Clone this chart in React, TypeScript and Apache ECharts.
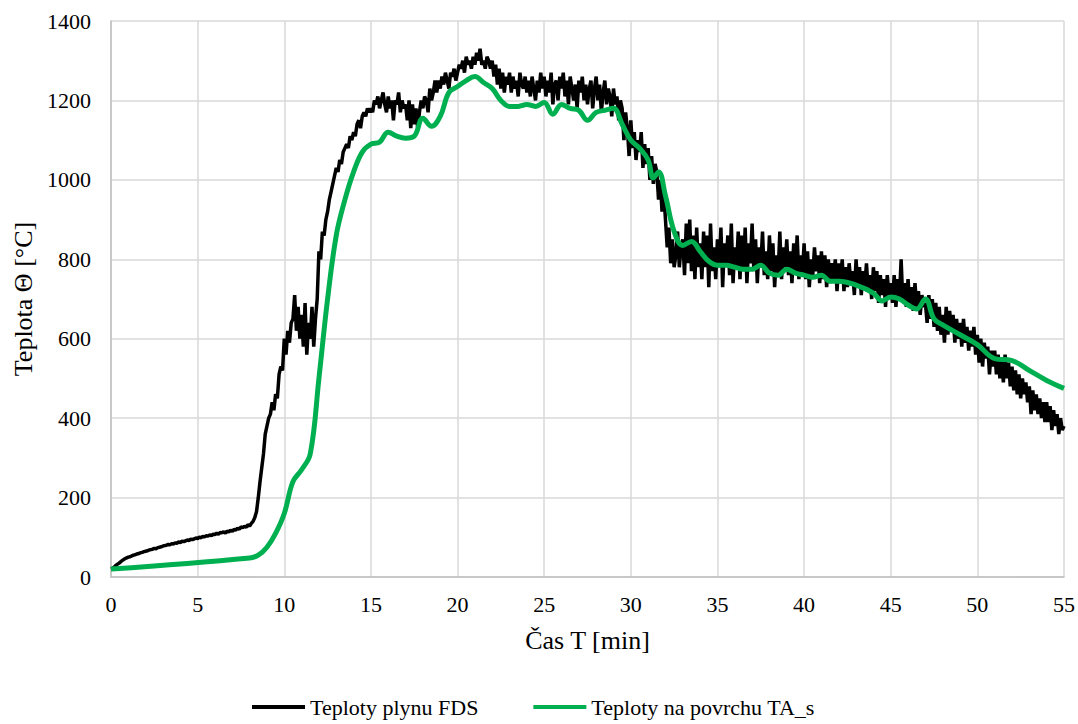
import React, { useEffect, useRef } from "react";
import * as echarts from "echarts";

// Black series (FDS gas temperature), sampled every 0.1 min, one row per minute
const fdsRows: number[][] = [
  [20, 22, 26, 30, 33, 36, 40, 43, 46, 48],
  [50, 51, 53, 55, 56, 58, 59, 61, 62, 64],
  [65, 66, 68, 69, 70, 72, 71, 74, 75, 76],
  [78, 79, 80, 82, 81, 84, 83, 86, 85, 88],
  [87, 90, 89, 91, 93, 92, 95, 94, 96, 98],
  [97, 100, 99, 102, 101, 104, 103, 106, 104, 108],
  [107, 110, 108, 112, 111, 114, 110, 116, 113, 118],
  [115, 120, 118, 123, 120, 126, 124, 128, 125, 132],
  [128, 135, 140, 150, 165, 200, 240, 275, 310, 360],
  [380, 400, 410, 440, 420, 460, 450, 510, 530, 520],
  [600, 560, 620, 590, 640, 650, 710, 620, 680, 600],
  [660, 580, 690, 560, 640, 600, 680, 580, 650, 700],
  [820, 800, 870, 860, 900, 920, 950, 970, 990, 1010],
  [1030, 1020, 1050, 1040, 1070, 1080, 1090, 1080, 1110, 1100],
  [1120, 1110, 1140, 1150, 1130, 1160, 1170, 1160, 1180, 1170],
  [1180, 1170, 1200, 1190, 1210, 1180, 1200, 1220, 1190, 1170],
  [1210, 1180, 1200, 1150, 1200, 1190, 1220, 1170, 1200, 1180],
  [1190, 1150, 1200, 1130, 1190, 1140, 1180, 1130, 1170, 1200],
  [1180, 1210, 1200, 1170, 1230, 1200, 1220, 1250, 1220, 1250],
  [1230, 1260, 1240, 1270, 1250, 1230, 1270, 1260, 1280, 1250],
  [1270, 1290, 1280, 1300, 1270, 1310, 1290, 1300, 1280, 1310],
  [1290, 1320, 1300, 1330, 1290, 1300, 1280, 1310, 1300, 1280],
  [1300, 1260, 1290, 1240, 1280, 1230, 1270, 1220, 1260, 1240],
  [1270, 1220, 1260, 1230, 1250, 1210, 1270, 1240, 1230, 1260],
  [1220, 1250, 1210, 1260, 1230, 1200, 1250, 1220, 1270, 1230],
  [1260, 1210, 1250, 1220, 1270, 1190, 1240, 1250, 1200, 1260],
  [1230, 1270, 1210, 1250, 1190, 1260, 1230, 1200, 1240, 1180],
  [1250, 1220, 1260, 1200, 1240, 1190, 1230, 1250, 1180, 1230],
  [1260, 1200, 1240, 1170, 1220, 1250, 1190, 1230, 1210, 1160],
  [1230, 1190, 1210, 1150, 1200, 1180, 1100, 1170, 1130, 1060],
  [1150, 1080, 1120, 1050, 1100, 1070, 1120, 1030, 1090, 1040],
  [1080, 1000, 1060, 990, 1040, 1020, 950, 1000, 920, 970],
  [900, 830, 880, 790, 850, 780, 810, 870, 780, 830],
  [850, 760, 890, 790, 900, 770, 860, 750, 880, 780],
  [840, 750, 870, 780, 860, 730, 890, 770, 830, 750],
  [850, 780, 880, 730, 840, 790, 860, 760, 890, 740],
  [830, 780, 870, 750, 860, 770, 880, 740, 840, 790],
  [890, 770, 850, 740, 830, 780, 870, 760, 820, 750],
  [860, 770, 840, 730, 810, 760, 870, 750, 830, 780],
  [850, 760, 820, 740, 840, 770, 860, 750, 810, 760],
  [840, 750, 820, 730, 800, 760, 830, 770, 810, 740],
  [820, 750, 810, 730, 800, 740, 790, 750, 800, 720],
  [790, 740, 800, 720, 780, 730, 790, 740, 770, 710],
  [800, 730, 780, 710, 770, 730, 790, 720, 760, 700],
  [780, 720, 770, 690, 760, 710, 750, 680, 760, 710],
  [740, 690, 760, 680, 750, 700, 800, 690, 740, 680],
  [750, 680, 730, 670, 740, 680, 720, 660, 710, 680],
  [690, 640, 710, 650, 700, 630, 690, 620, 680, 610],
  [660, 590, 680, 610, 670, 620, 660, 590, 650, 600],
  [640, 580, 650, 590, 630, 570, 620, 580, 630, 560],
  [610, 540, 600, 530, 590, 550, 580, 510, 570, 530],
  [570, 510, 560, 500, 550, 490, 560, 500, 540, 480],
  [530, 470, 520, 460, 510, 450, 500, 460, 490, 440],
  [480, 410, 470, 420, 460, 410, 450, 400, 440, 390],
  [440, 390, 430, 370, 420, 380, 410, 360, 400, 370],
  [380],
];

// Green series (surface temperature TA_s)
const surfaceTimes: number[] = [
  0, 8, 8.5, 9, 9.5, 10, 10.5, 11, 11.5, 12, 12.5, 13, 13.5, 14, 14.5, 15, 15.5,
  16, 16.5, 17, 17.5, 18, 18.5, 19, 19.5, 20, 20.5, 21, 21.5, 22, 22.5, 23, 23.5,
  24, 24.5, 25, 25.5, 26, 26.5, 27, 27.5, 28, 28.5, 29, 29.5, 30, 30.5, 31, 31.3,
  31.6, 32, 32.5, 33, 33.5, 34, 34.5, 35, 35.5, 36, 36.5, 37, 37.5, 38, 38.5, 39,
  39.5, 40, 40.5, 41, 41.5, 42, 43, 44, 44.5, 45, 45.5, 46, 46.5, 47, 47.5, 48,
  49, 50, 51, 52, 53, 54, 55,
];
const surfaceValues: number[] = [
  20, 48, 55, 75, 110, 160, 240, 270, 310, 500, 700, 860, 950, 1020, 1070, 1090, 1095,
  1120, 1110, 1105, 1110, 1155, 1135, 1160, 1220, 1235, 1250, 1260, 1245, 1230, 1200, 1185, 1185,
  1190, 1185, 1195, 1165, 1190, 1180, 1175, 1150, 1170, 1175, 1180, 1140, 1100, 1080, 1050, 1005,
  1020, 960, 870, 835, 845, 820, 795, 785, 785, 780, 775, 775, 785, 765, 760, 775,
  765, 760, 755, 760, 745, 745, 735, 715, 695, 705, 700, 685, 675, 700, 650, 635,
  610, 585, 550, 545, 520, 495, 475,
];

const xTicks = { min: 0, max: 55, interval: 5 };
const yTicks = { min: 0, max: 1400, interval: 200 };

const seriesNames = ["Teploty plynu FDS", "Teploty na povrchu TA_s"];

const FONT = "Times New Roman";
const richText = { t: { fontFamily: FONT, fontSize: 22, color: "#000" } };

export default function App() {
  const ref = useRef<HTMLDivElement>(null);
  useEffect(() => {
    if (!ref.current) return;
    const chart = echarts.init(ref.current, undefined, { renderer: "svg" });
    const fdsData: number[][] = [];
    fdsRows.forEach((row, m) => {
      row.forEach((v, i) => {
        fdsData.push([Math.round((m + i / 10) * 10) / 10, v]);
      });
    });
    const surfData = surfaceTimes.map((t, i) => [t, surfaceValues[i]]);
    chart.setOption({
      animation: false,
      textStyle: { fontFamily: FONT },
      grid: { left: 111, right: 13, top: 21, bottom: 147, containLabel: false },
      legend: {
        bottom: 1,
        left: 247,
        itemWidth: 53,
        itemHeight: 4,
        itemGap: 55,
        formatter: (name: string) => `{t|${name}}`,
        textStyle: { fontFamily: FONT, fontSize: 22, rich: richText },
        data: [
          { name: seriesNames[0], icon: "rect", itemStyle: { color: "#000" } },
          { name: seriesNames[1], icon: "rect", itemStyle: { color: "#00b050" } },
        ],
      },
      xAxis: {
        type: "value",
        ...xTicks,
        name: "Čas T [min]",
        nameLocation: "middle",
        nameGap: 50,
        nameTextStyle: { fontFamily: FONT, fontSize: 26, color: "#000" },
        axisLine: { show: true, lineStyle: { color: "#bfbfbf", width: 1.5 } },
        axisTick: { show: false },
        axisLabel: {
          fontFamily: FONT,
          fontSize: 22,
          margin: 16,
          formatter: (v: number) => `{t|${v}}`,
          rich: richText,
        },
        splitLine: { show: true, lineStyle: { color: "#d9d9d9", width: 1.5 } },
      },
      yAxis: {
        type: "value",
        ...yTicks,
        name: "Teplota Θ [°C]",
        nameLocation: "middle",
        nameGap: 73,
        nameTextStyle: { fontFamily: FONT, fontSize: 26, color: "#000" },
        axisLine: { show: true, lineStyle: { color: "#bfbfbf", width: 1.5 } },
        axisTick: { show: false },
        axisLabel: {
          fontFamily: FONT,
          fontSize: 22,
          margin: 20,
          formatter: (v: number) => `{t|${v}}`,
          rich: richText,
        },
        splitLine: { show: true, lineStyle: { color: "#d9d9d9", width: 1.5 } },
      },
      series: [
        {
          name: seriesNames[0],
          type: "line",
          data: fdsData,
          showSymbol: false,
          symbol: "none",
          lineStyle: { color: "#000", width: 3.5 },
          itemStyle: { color: "#000" },
          z: 2,
        },
        {
          name: seriesNames[1],
          type: "line",
          data: surfData,
          showSymbol: false,
          symbol: "none",
          smooth: 0.4,
          lineStyle: { color: "#00b050", width: 5 },
          itemStyle: { color: "#00b050" },
          z: 3,
        },
      ],
    });
    return () => chart.dispose();
  }, []);
  return (
    <div
      ref={ref}
      style={{ position: "fixed", left: 0, top: 0, width: 1078, height: 724, background: "#fff" }}
    />
  );
}
